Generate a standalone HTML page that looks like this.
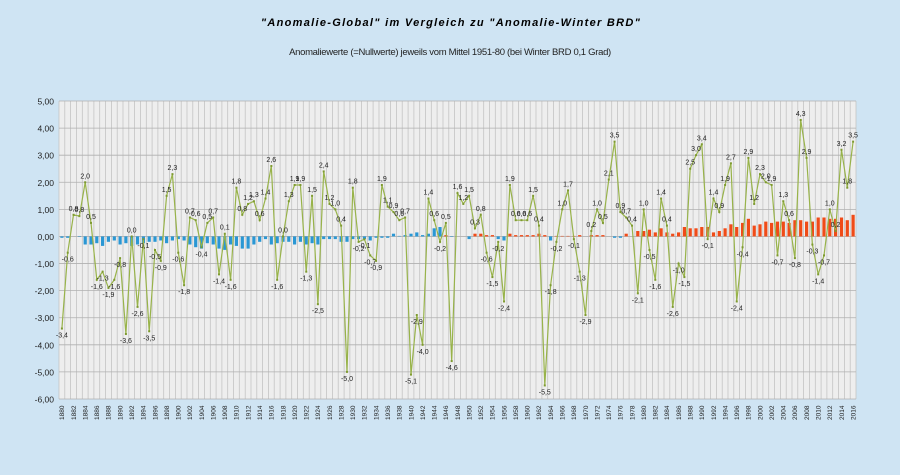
<!DOCTYPE html>
<html><head><meta charset="utf-8"><style>
body{margin:0;background:#cfe4f3;}
svg{display:block}
</style></head><body>
<svg id="s" width="900" height="475" xmlns="http://www.w3.org/2000/svg" font-family="Liberation Sans, sans-serif">
<rect width="900" height="475" fill="#cfe4f3"/>
<text x="451" y="26" text-anchor="middle" font-size="11" font-weight="bold" font-style="italic" letter-spacing="1.3">"Anomalie-Global" im Vergleich zu "Anomalie-Winter BRD"</text>
<text x="450" y="55" text-anchor="middle" font-size="9.5" fill="#222" letter-spacing="-0.3">Anomaliewerte (=Nullwerte) jeweils vom Mittel 1951-80 (bei Winter BRD 0,1 Grad)</text>
<rect x="59" y="101" width="797" height="298" fill="#eeeeee"/>
<g id="g"></g>
</svg>
<script>
var L=[-3.4,-0.6,0.8,0.75,2.0,0.5,-1.6,-1.3,-1.9,-1.6,-0.8,-3.6,0.0,-2.6,-0.1,-3.5,-0.5,-0.9,1.5,2.3,-0.6,-1.8,0.7,0.6,-0.4,0.5,0.7,-1.4,0.1,-1.6,1.8,0.8,1.2,1.3,0.6,1.4,2.6,-1.6,0.0,1.3,1.9,1.9,-1.3,1.5,-2.5,2.4,1.2,1.0,0.4,-5.0,1.8,-0.2,-0.1,-0.7,-0.9,1.9,1.1,0.9,0.6,0.7,-5.1,-2.9,-4.0,1.4,0.6,-0.2,0.5,-4.6,1.6,1.2,1.5,0.3,0.8,-0.6,-1.5,-0.2,-2.4,1.9,0.6,0.6,0.6,1.5,0.4,-5.5,-1.8,-0.2,1.0,1.7,-0.1,-1.3,-2.9,0.2,1.0,0.5,2.1,3.5,0.9,0.7,0.4,-2.1,1.0,-0.5,-1.6,1.4,0.4,-2.6,-1.0,-1.5,2.5,3.0,3.4,-0.1,1.4,0.9,1.9,2.7,-2.4,-0.4,2.9,1.2,2.3,2.0,1.9,-0.7,1.3,0.6,-0.8,4.3,2.9,-0.3,-1.4,-0.7,1.0,0.2,3.2,1.8,3.5];
var B=[-0.05,-0.05,0,-0.02,-0.3,-0.3,-0.25,-0.35,-0.2,-0.15,-0.3,-0.25,-0.35,-0.3,-0.25,-0.2,-0.2,-0.15,-0.25,-0.15,-0.1,-0.15,-0.3,-0.4,-0.45,-0.25,-0.3,-0.45,-0.5,-0.3,-0.35,-0.45,-0.45,-0.3,-0.2,-0.1,-0.3,-0.25,-0.2,-0.2,-0.3,-0.2,-0.3,-0.25,-0.3,-0.1,-0.1,-0.1,-0.2,-0.2,-0.1,-0.1,-0.1,-0.15,-0.05,-0.05,-0.05,0.1,0.02,0.05,0.1,0.15,0.05,0.1,0.3,0.35,0.05,-0.02,0,0,-0.1,0.1,0.1,0.05,0.05,-0.1,-0.15,0.1,0.05,0.05,0.05,0.05,0.1,0.05,-0.15,0.02,0.02,0.02,0.02,0.05,0,0.05,0.05,0.05,0,-0.05,-0.05,0.1,0,0.2,0.2,0.25,0.15,0.3,0.15,0.1,0.15,0.35,0.3,0.3,0.35,0.35,0.15,0.2,0.3,0.45,0.35,0.5,0.65,0.4,0.45,0.55,0.5,0.55,0.55,0.5,0.6,0.6,0.55,0.55,0.7,0.7,0.65,0.65,0.7,0.6,0.8,0.85,0.9];
var x0=59,w=797,n=137,st=w/n,y5=101,u=27.09;
function Y(v){return y5+(5-v)*u;}
var h='';
for(var i=0;i<=n;i++){var x=x0+i*st;h+='<line x1="'+x.toFixed(1)+'" y1="101" x2="'+x.toFixed(1)+'" y2="399" stroke="#c4c4c4" stroke-width="0.8"/>';}
for(var v=5;v>=-6;v--){var y=Y(v);h+='<line x1="59" y1="'+y+'" x2="856" y2="'+y+'" stroke="#b0b0b0" stroke-width="0.8"/>';
h+='<text x="54" y="'+(y+3.5)+'" text-anchor="end" font-size="8.5" fill="#222">'+(v.toFixed(2).replace('.',','))+'</text>';}
for(i=0;i<n;i++){var cx=x0+st*(i+0.5),b=B[i],yb=Y(Math.max(b,0)),hb=Math.abs(b)*u;
var col=(i<64||b<0&&i<100)?'#2a97d4':'#f04b18'; if(i>=64&&i<66)col='#2a97d4';
if(hb>0)h+='<rect x="'+(cx-1.6).toFixed(1)+'" y="'+yb.toFixed(1)+'" width="3.2" height="'+hb.toFixed(1)+'" fill="'+col+'"/>';}
var p='';for(i=0;i<n;i++){p+=(x0+st*(i+0.5)).toFixed(1)+','+Y(L[i]).toFixed(1)+' ';}
h+='<polyline points="'+p+'" fill="none" stroke="#98b34a" stroke-width="1.2"/>';
for(i=0;i<n;i++){var cx=x0+st*(i+0.5),cy=Y(L[i]);
h+='<rect x="'+(cx-1)+'" y="'+(cy-1)+'" width="2" height="2" fill="#7e9a30"/>';
var ty=L[i]>=0?cy-4:cy+9;
h+='<text x="'+cx.toFixed(1)+'" y="'+ty.toFixed(1)+'" text-anchor="middle" font-size="7" fill="#222">'+L[i].toFixed(1).replace('.',',')+'</text>';}
for(i=0;i<n;i+=2){var cx=x0+st*(i+0.5);
h+='<text transform="translate('+(cx+2.3).toFixed(1)+',420) rotate(-90)" font-size="6.5" fill="#222">'+(1880+i)+'</text>';}
document.getElementById('g').innerHTML=h;
</script>
</body></html>
